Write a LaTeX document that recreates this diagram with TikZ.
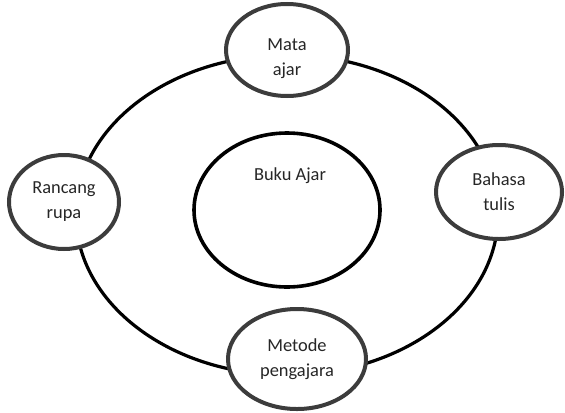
\documentclass[tikz,border=0pt]{standalone}
\usepackage{fontspec}
\setmainfont{Carlito}
\usepackage{tikz}
\usetikzlibrary{shapes.geometric}
\definecolor{ringgray}{HTML}{3C3C3C}
\definecolor{textgray}{HTML}{262626}

\begin{document}
\begin{tikzpicture}[x=0.5pt, y=-0.5pt,
    topictext/.style={align=center, text=textgray, font=\fontsize{9.2}{12.5}\selectfont},
    topic/.style={ellipse, draw=ringgray, line width=2pt, fill=white, inner sep=0pt, topictext}]
  \useasboundingbox (0,0) rectangle (565,412);
  % outer ring and centre
  \coordinate (hub) at (287,215);
  \draw[line width=1.6pt] (hub) ellipse [x radius=211, y radius=160];
  \node (buku) [ellipse, draw, line width=1.8pt, minimum width=93pt, minimum height=77pt] at (287,210) {};
  \node (bukutext) [topictext] at (290,176) {Buku Ajar};
  % the four topics on the ring
  \node (mata) [topic, minimum width=61pt, minimum height=46pt,
    label={[topictext, yshift=-4.5pt]center:Mata\\ajar}] at (287,50) {};
  \node (rancang) [topic, minimum width=55pt, minimum height=47pt] at (64,202) {Rancang\\rupa};
  \node (bahasa) [topic, minimum width=63pt, minimum height=47pt] at (499,192) {Bahasa\\tulis};
  \node (metode) [topic, minimum width=69pt, minimum height=50pt] at (297,359) {Metode\\pengajara};
\end{tikzpicture}
\end{document}
